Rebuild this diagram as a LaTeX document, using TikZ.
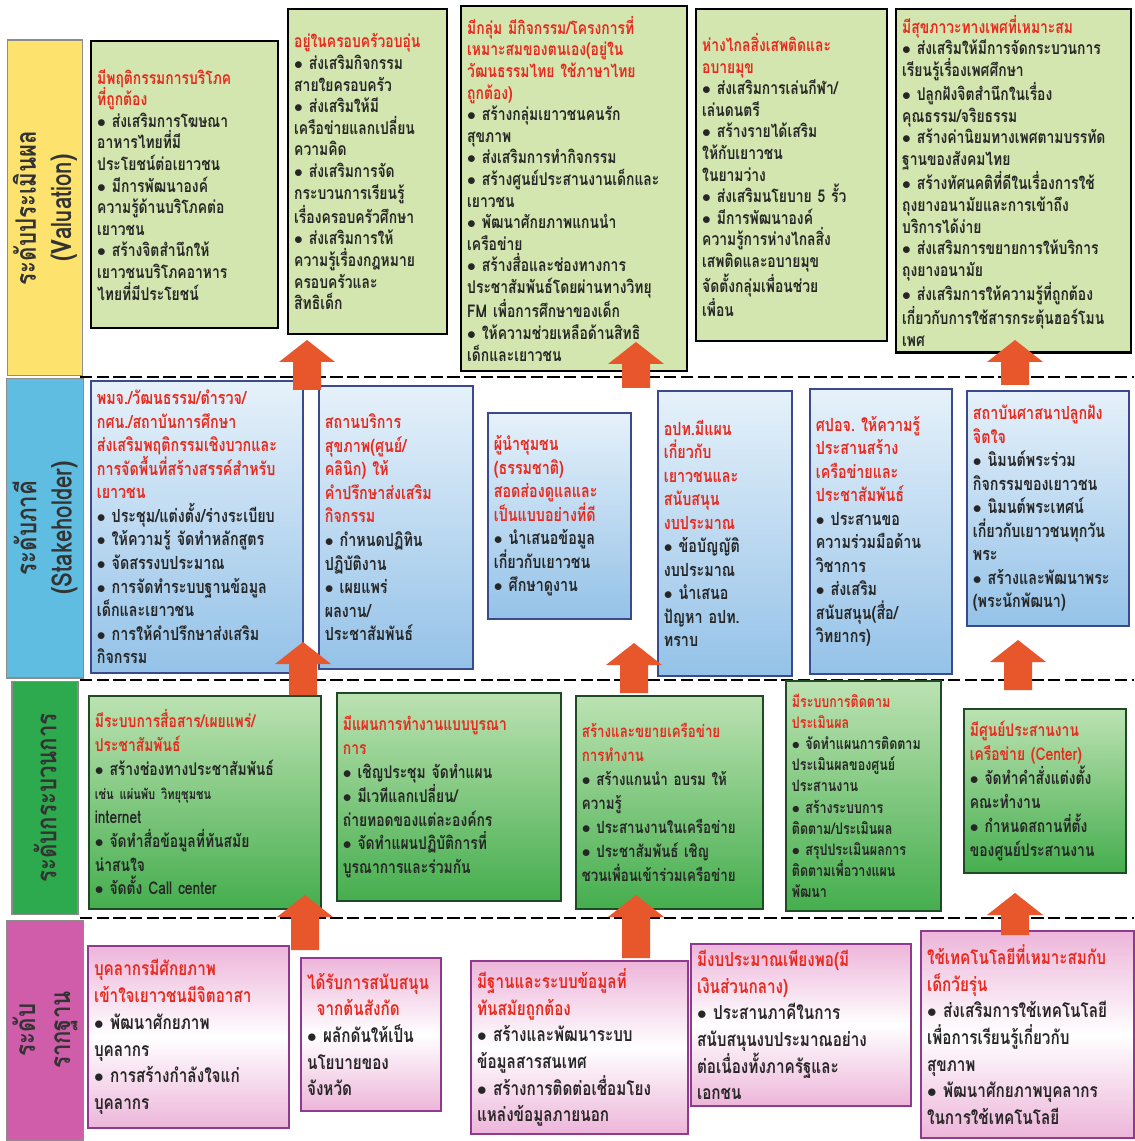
\documentclass[tikz,border=0pt]{standalone}
\usepackage{fontspec}
\setmainfont[Script=Thai,FakeStretch=0.85,BoldFeatures={FakeStretch=0.79}]{Loma}
\usepackage{xcolor}
\usepackage{tikz}
\definecolor{SLMYellow}{HTML}{FDE36E}
\definecolor{SLMBlue}{HTML}{5EBDE1}
\definecolor{SLMGreen}{HTML}{2EAA4E}
\definecolor{SLMPink}{HTML}{CF5DA9}
\definecolor{SLMRed}{HTML}{E82A1E}
\definecolor{SLMArrow}{HTML}{E8572B}
\definecolor{SLMValFill}{HTML}{D3E6B0}
\definecolor{SLMStkTop}{HTML}{E6F1FA}
\definecolor{SLMStkBot}{HTML}{94C2E8}
\definecolor{SLMStkLine}{HTML}{3B4A8C}
\definecolor{SLMProTop}{HTML}{BCE2B2}
\definecolor{SLMProBot}{HTML}{45AE4E}
\definecolor{SLMProLine}{HTML}{1F4A26}
\definecolor{SLMFndEdge}{HTML}{EDB5DA}
\definecolor{SLMFndLine}{HTML}{8E3A8E}
\newcommand{\itm}{$\bullet$~}

\begin{document}
\begin{tikzpicture}[x=0.02cm,y=-0.02cm,
  valbox/.style={draw=black,line width=1.4pt,fill=SLMValFill,anchor=north west,align=left,inner sep=0.12cm,text=black!85,font=\bfseries\fontsize{10}{12.3}\selectfont},
  stkbox/.style={draw=SLMStkLine,line width=1pt,top color=SLMStkTop,bottom color=SLMStkBot,anchor=north west,align=left,inner sep=0.12cm,text=black!85,font=\bfseries\fontsize{10.3}{13.4}\selectfont},
  probox/.style={draw=SLMProLine,line width=1pt,top color=SLMProTop,bottom color=SLMProBot,anchor=north west,align=left,inner sep=0.12cm,text=black!85,font=\bfseries\fontsize{10}{13.6}\selectfont},
  fndbox/.style={draw=SLMFndLine,line width=1.2pt,top color=SLMFndEdge,bottom color=SLMFndEdge,middle color=white,anchor=north west,align=left,inner sep=0.12cm,text=black!85,font=\bfseries\fontsize{11}{15.2}\selectfont},
  lvband/.style={rotate=90,align=center,draw=black!45,line width=0.6pt,text=black!80,font=\bfseries\fontsize{16}{20}\selectfont},
  upblock/.style={fill=SLMArrow},
  tierline/.style={black,line width=1pt,dash pattern=on 7pt off 2.5pt}]
\path[use as bounding box,fill=white] (0,0) rectangle (1134,1141);

% level bands
\node[lvband,fill=SLMYellow,minimum width=6.72cm,minimum height=1.4cm] (lvval) at (45,208) {ระดับประเมินผล\\(Valuation)};
\node[lvband,fill=SLMBlue,minimum width=6.0cm,minimum height=1.4cm] (lvstk) at (45,528) {ระดับภาคี\\(Stakeholder)};
\node[lvband,fill=SLMGreen,minimum width=4.66cm,minimum height=1.32cm] (lvpro) at (45,798) {ระดับกระบวนการ};
\node[lvband,fill=SLMPink,minimum width=4.4cm,minimum height=1.32cm] (lvfnd) at (45,1030) {ระดับ\\รากฐาน};

\draw[tierline] (80,377) -- (1134,377);
\draw[tierline] (80,680) -- (1134,680);
\draw[tierline] (80,918) -- (1134,918);

% valuation
\node[valbox,text width=3.50cm,minimum height=5.74cm] (val1) at (90,40) {{\color{SLMRed}มีพฤติกรรมการบริโภค\\ที่ถูกต้อง}\\
\itm ส่งเสริมการโฆษณา\\อาหารไทยที่มี\\ประโยชน์ต่อเยาวชน\\
\itm มีการพัฒนาองค์\\ความรู้ด้านบริโภคต่อ\\เยาวชน\\
\itm สร้างจิตสำนึกให้\\เยาวชนบริโภคอาหาร\\ไทยที่มีประโยชน์};
\node[valbox,text width=2.94cm,minimum height=6.50cm] (val2) at (287,8) {{\color{SLMRed}อยู่ในครอบครัวอบอุ่น}\\
\itm ส่งเสริมกิจกรรม\\สายใยครอบครัว\\
\itm ส่งเสริมให้มี\\เครือข่ายแลกเปลี่ยน\\ความคิด\\
\itm ส่งเสริมการจัด\\กระบวนการเรียนรู้\\เรื่องครอบครัวศึกษา\\
\itm ส่งเสริมการให้\\ความรู้เรื่องกฎหมาย\\ครอบครัวและ\\สิทธิเด็ก};
\node[valbox,text width=4.28cm,minimum height=7.30cm] (val3) at (460,5) {{\color{SLMRed}มีกลุ่ม มีกิจกรรม/โครงการที่\\เหมาะสมของตนเอง(อยู่ใน\\วัฒนธรรมไทย ใช้ภาษาไทย\\ถูกต้อง)}\\
\itm สร้างกลุ่มเยาวชนคนรัก\\สุขภาพ\\
\itm ส่งเสริมการทำกิจกรรม\\
\itm สร้างศูนย์ประสานงานเด็กและ\\เยาวชน\\
\itm พัฒนาศักยภาพแกนนำ\\เครือข่าย\\
\itm สร้างสื่อและช่องทางการ\\ประชาสัมพันธ์โดยผ่านทางวิทยุ\\FM เพื่อการศึกษาของเด็ก\\
\itm ให้ความช่วยเหลือด้านสิทธิ\\เด็กและเยาวชน};
\node[valbox,text width=3.58cm,minimum height=6.64cm] (val4) at (695,8) {{\color{SLMRed}ห่างไกลสิ่งเสพติดและ\\อบายมุข}\\
\itm ส่งเสริมการเล่นกีฬา/\\เล่นดนตรี\\
\itm สร้างรายได้เสริม\\ให้กับเยาวชน\\ในยามว่าง\\
\itm ส่งเสริมนโยบาย 5~รั้ว\\
\itm มีการพัฒนาองค์\\ความรู้การห่างไกลสิ่ง\\เสพติดและอบายมุข\\จัดตั้งกลุ่มเพื่อนช่วย\\เพื่อน};
\node[valbox,text width=4.46cm,minimum height=6.74cm] (val5) at (895,8) {{\color{SLMRed}มีสุขภาวะทางเพศที่เหมาะสม}\\
\itm ส่งเสริมให้มีการจัดกระบวนการ\\เรียนรู้เรื่องเพศศึกษา\\
\itm ปลูกฝังจิตสำนึกในเรื่อง\\คุณธรรม/จริยธรรม\\
\itm สร้างค่านิยมทางเพศตามบรรทัด\\ฐานของสังคมไทย\\
\itm สร้างทัศนคติที่ดีในเรื่องการใช้\\ถุงยางอนามัยและการเข้าถึง\\บริการได้ง่าย\\
\itm ส่งเสริมการขยายการให้บริการ\\ถุงยางอนามัย\\
\itm ส่งเสริมการให้ความรู้ที่ถูกต้อง\\เกี่ยวกับการใช้สารกระตุ้นฮอร์โมน\\เพศ};

% stakeholder
\node[stkbox,text width=4.00cm,minimum height=5.84cm] (stk1) at (90,380) {{\color{SLMRed}พมจ./วัฒนธรรม/ตำรวจ/\\กศน./สถาบันการศึกษา\\ส่งเสริมพฤติกรรมเชิงบวกและ\\การจัดพื้นที่สร้างสรรค์สำหรับ\\เยาวชน}\\
\itm ประชุม/แต่งตั้ง/ร่างระเบียบ\\
\itm ให้ความรู้~จัดทำหลักสูตร\\
\itm จัดสรรงบประมาณ\\
\itm การจัดทำระบบฐานข้อมูล\\เด็กและเยาวชน\\
\itm การให้คำปรึกษาส่งเสริม\\กิจกรรม};
\node[stkbox,text width=2.84cm,minimum height=5.66cm] (stk2) at (318,385) {{\color{SLMRed}สถานบริการ\\สุขภาพ(ศูนย์/\\คลินิก)~ให้\\คำปรึกษาส่งเสริม\\กิจกรรม}\\
\itm กำหนดปฏิทิน\\ปฏิบัติงาน\\
\itm เผยแพร่\\ผลงาน/\\ประชาสัมพันธ์};
\node[stkbox,text width=2.62cm,minimum height=4.12cm] (stk3) at (487,412) {{\color{SLMRed}ผู้นำชุมชน\\(ธรรมชาติ)\\สอดส่องดูแลและ\\เป็นแบบอย่างที่ดี}\\
\itm นำเสนอข้อมูล\\เกี่ยวกับเยาวชน\\
\itm ศึกษาดูงาน};
\node[stkbox,text width=2.44cm,minimum height=5.70cm] (stk4) at (657,390) {{\color{SLMRed}อปท.มีแผน\\เกี่ยวกับ\\เยาวชนและ\\สนับสนุน\\งบประมาณ}\\
\itm ข้อบัญญัติ\\งบประมาณ\\
\itm นำเสนอ\\ปัญหา~อปท.\\ทราบ};
\node[stkbox,text width=2.60cm,minimum height=5.70cm] (stk5) at (809,388) {{\color{SLMRed}ศปอจ.~ให้ความรู้\\ประสานสร้าง\\เครือข่ายและ\\ประชาสัมพันธ์}\\
\itm ประสานขอ\\ความร่วมมือด้าน\\วิชาการ\\
\itm ส่งเสริม\\สนับสนุน(สื่อ/\\วิทยากร)};
\node[stkbox,text width=3.00cm,minimum height=4.70cm] (stk6) at (966,390) {{\color{SLMRed}สถาบันศาสนาปลูกฝัง\\จิตใจ}\\
\itm นิมนต์พระร่วม\\กิจกรรมของเยาวชน\\
\itm นิมนต์พระเทศน์\\เกี่ยวกับเยาวชนทุกวัน\\พระ\\
\itm สร้างและพัฒนาพระ\\(พระนักพัฒนา)};

% process
\node[probox,text width=4.40cm,minimum height=4.26cm] (pro1) at (88,695) {{\color{SLMRed}มีระบบการสื่อสาร/เผยแพร่/\\ประชาสัมพันธ์}\\
\itm สร้างช่องทางประชาสัมพันธ์\\{\fontsize{8}{10}\selectfont เช่น แผ่นพับ วิทยุชุมชน}\\internet\\
\itm จัดทำสื่อข้อมูลที่ทันสมัย\\น่าสนใจ\\
\itm จัดตั้ง Call~center};
\node[probox,text width=4.24cm,minimum height=4.16cm] (pro2) at (336,692) {{\color{SLMRed}มีแผนการทำงานแบบบูรณา\\การ}\\
\itm เชิญประชุม~จัดทำแผน\\
\itm มีเวทีแลกเปลี่ยน/\\ถ่ายทอดของแต่ละองค์กร\\
\itm จัดทำแผนปฏิบัติการที่\\บูรณาการและร่วมกัน};
\node[probox,text width=3.50cm,minimum height=4.26cm,font=\bfseries\fontsize{9.6}{13.6}\selectfont] (pro3) at (575,695) {{\color{SLMRed}สร้างและขยายเครือข่าย\\การทำงาน}\\
\itm สร้างแกนนำ~อบรม~ให้\\ความรู้\\
\itm ประสานงานในเครือข่าย\\
\itm ประชาสัมพันธ์~เชิญ\\ชวนเพื่อนเข้าร่วมเครือข่าย};
\node[probox,text width=2.86cm,minimum height=4.60cm,font=\bfseries\fontsize{9}{12}\selectfont] (pro4) at (785,680) {{\color{SLMRed}มีระบบการติดตาม\\ประเมินผล}\\
\itm จัดทำแผนการติดตาม\\ประเมินผลของศูนย์\\ประสานงาน\\
\itm สร้างระบบการ\\ติดตาม/ประเมินผล\\
\itm สรุปประเมินผลการ\\ติดตามเพื่อวางแผน\\พัฒนา};
\node[probox,text width=3.00cm,minimum height=3.28cm] (pro5) at (963,708) {{\color{SLMRed}มีศูนย์ประสานงาน\\เครือข่าย~(Center)}\\
\itm จัดทำคำสั่งแต่งตั้ง\\คณะทำงาน\\
\itm กำหนดสถานที่ตั้ง\\ของศูนย์ประสานงาน};

% foundation
\node[fndbox,text width=3.78cm,minimum height=3.64cm] (fnd1) at (87,945) {{\color{SLMRed}บุคลากรมีศักยภาพ\\เข้าใจเยาวชนมีจิตอาสา}\\
\itm พัฒนาศักยภาพ\\บุคลากร\\
\itm การสร้างกำลังใจแก่\\บุคลากร};
\node[fndbox,text width=2.56cm,minimum height=3.06cm] (fnd2) at (300,957) {{\color{SLMRed}ได้รับการสนับสนุน\\\hspace*{0.5em}จากต้นสังกัด}\\
\itm ผลักดันให้เป็น\\นโยบายของ\\จังหวัด};
\node[fndbox,text width=4.10cm,minimum height=3.46cm] (fnd3) at (470,960) {{\color{SLMRed}มีฐานและระบบข้อมูลที่\\ทันสมัยถูกต้อง}\\
\itm สร้างและพัฒนาระบบ\\ข้อมูลสารสนเทศ\\
\itm สร้างการติดต่อเชื่อมโยง\\แหล่งข้อมูลภายนอก};
\node[fndbox,text width=4.16cm,minimum height=3.24cm] (fnd4) at (690,943) {{\color{SLMRed}มีงบประมาณเพียงพอ(มี\\เงินส่วนกลาง)}\\
\itm ประสานภาคีในการ\\สนับสนุนงบประมาณอย่าง\\ต่อเนื่องทั้งภาครัฐและ\\เอกชน};
\node[fndbox,text width=4.02cm,minimum height=4.14cm] (fnd5) at (920,930) {{\color{SLMRed}ใช้เทคโนโลยีที่เหมาะสมกับ\\เด็กวัยรุ่น}\\
\itm ส่งเสริมการใช้เทคโนโลยี\\เพื่อการเรียนรู้เกี่ยวกับ\\สุขภาพ\\
\itm พัฒนาศักยภาพบุคลากร\\ในการใช้เทคโนโลยี};

% arrows between levels: name / x / tip y / foot y
\foreach \nm/\ax/\at/\ab in {up1/307/340/390,up2/636/342/388,up3/1015/340/385,up4/303/642/695,up5/634/643/693,up6/1018/640/690,up7/305/895/950,up8/636/895/958,up9/1015/893/935}{
  \coordinate (\nm) at (\ax,\at);
  \fill[upblock] (\ax-14,\ab) -- (\ax-14,\at+22) -- (\ax-28,\at+22) -- (\nm) -- (\ax+28,\at+22) -- (\ax+14,\at+22) -- (\ax+14,\ab) -- cycle;
}
\end{tikzpicture}
\end{document}
